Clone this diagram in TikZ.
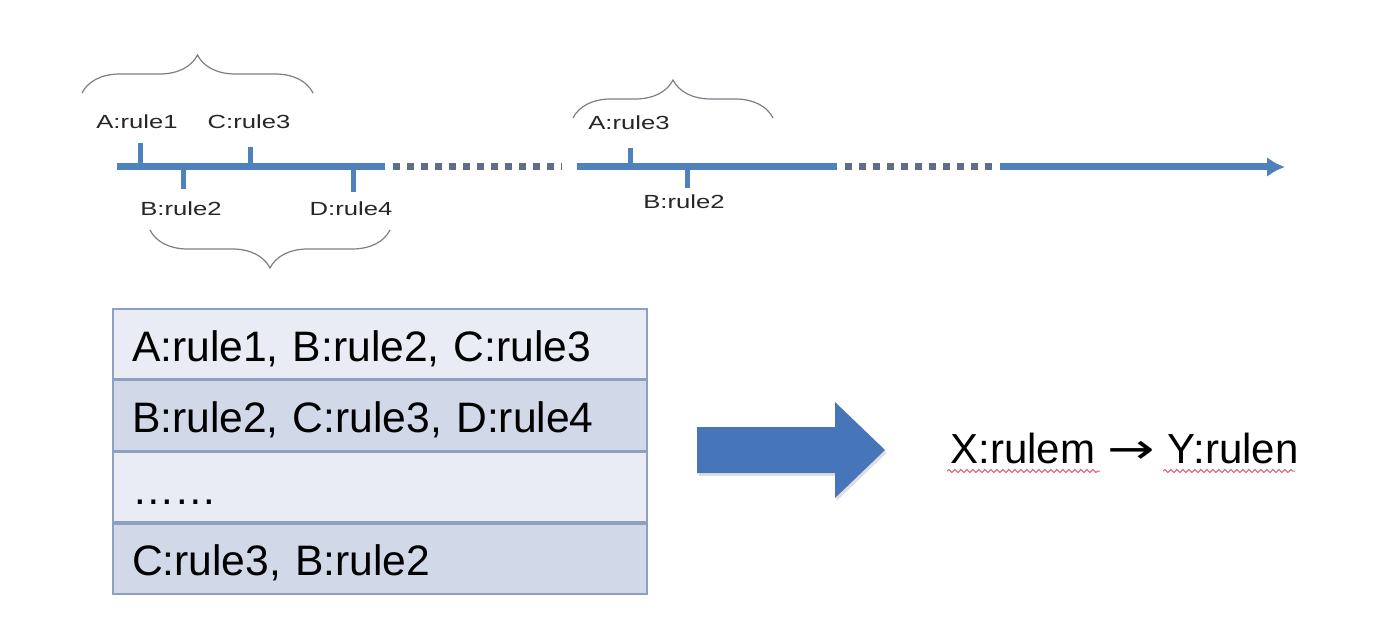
\documentclass[tikz,border=0pt]{standalone}
\usepackage{fontspec}
\setmainfont{Liberation Sans}
\newfontfamily\arrowfont{DejaVu Sans}
\usetikzlibrary{arrows.meta,positioning,decorations.pathreplacing,decorations.pathmorphing,shadows}

\definecolor{lineblue}{HTML}{4F81BD}
\definecolor{dotgray}{HTML}{5E6E86}
\definecolor{bracegray}{HTML}{7A7F88}
\definecolor{rowlight}{HTML}{E9ECF5}
\definecolor{rowdark}{HTML}{D1D8E7}
\definecolor{rowline}{HTML}{8FA0BF}
\definecolor{arrowblue}{HTML}{4675B9}
\definecolor{spellred}{HTML}{D9607A}

% event labels on the time line are set wide
\newcommand{\evtext}[1]{\scalebox{1.35}[1]{#1}}

\begin{document}
\begin{tikzpicture}[x=0.5pt,y=-0.5pt,>=Latex,
  axisline/.style={draw=lineblue,line width=3.5pt},
  axisdots/.style={draw=dotgray,line width=3.5pt,dash pattern=on 3.5pt off 3.5pt},
  tickmark/.style={draw=lineblue,line width=2.5pt},
  evlabel/.style={font=\fontsize{9.5}{11}\selectfont,text=black!85,inner sep=0pt,anchor=base},
  brc/.style={draw=bracegray,line width=0.6pt,decorate,decoration={brace,amplitude=19pt}},
  rowbox/.style={draw=rowline,line width=0.8pt,minimum height=35pt,text width=248pt,inner xsep=9.5pt,inner ysep=0pt,text height=21pt,text depth=4pt,align=left,font=\fontsize{21.3}{25}\selectfont},
  squiggle/.style={draw=spellred,line width=0.5pt,decorate,decoration={snake,amplitude=0.8pt,segment length=3pt}}]
\useasboundingbox (0,0) rectangle (1384,636);

% time line
\coordinate (s1a) at (117,167);
\coordinate (s1b) at (385,167);
\coordinate (d1a) at (393,167);
\coordinate (d1b) at (562,167);
\coordinate (s2a) at (577,167);
\coordinate (s2b) at (837,167);
\coordinate (d2a) at (845,167);
\coordinate (d2b) at (997,167);
\coordinate (s3a) at (1000,167);
\coordinate (tend) at (1285,167);
\draw[axisline] (s1a)--(s1b);
\draw[axisdots] (d1a)--(d1b);
\draw[axisline] (s2a)--(s2b);
\draw[axisdots] (d2a)--(d2b);
\draw[axisline,-{Latex[length=9pt,width=10pt]}] (s3a)--(tend);

% events
\draw[tickmark] (140,167)--(140,143);
\draw[tickmark] (250,167)--(250,147);
\draw[tickmark] (183,167)--(183,189);
\draw[tickmark] (353,167)--(353,192);
\draw[tickmark] (630,167)--(630,148);
\draw[tickmark] (687,167)--(687,188);
\node[evlabel] (ev1) at (137,129) {\evtext{A:rule1}};
\node[evlabel] (ev2) at (181,215) {\evtext{B:rule2}};
\node[evlabel] (ev3) at (249,129) {\evtext{C:rule3}};
\node[evlabel] (ev4) at (351,215) {\evtext{D:rule4}};
\node[evlabel] (ev5) at (629,130) {\evtext{A:rule3}};
\node[evlabel] (ev6) at (684,208) {\evtext{B:rule2}};

% windows
\draw[brc] (82,93)--(313,93);
\draw[brc] (390,230)--(150,230);
\draw[brc] (573,118)--(773,118);

% table of windows
\node[rowbox,fill=rowlight] (row1) at (380,344) {A:rule1, B:rule2, C:rule3};
\node[rowbox,fill=rowdark,below=0pt of row1] (row2) {B:rule2, C:rule3, D:rule4};
\node[rowbox,fill=rowlight,below=0pt of row2] (row3) {……};
\node[rowbox,fill=rowdark,below=0pt of row3] (row4) {C:rule3, B:rule2};

% block arrow and result
\fill[arrowblue,drop shadow={opacity=0.25,shadow xshift=0.8pt,shadow yshift=-1.5pt}]
  (697,427)--(835,427)--(835,402)--(885,450)--(835,498)--(835,473)--(697,473)--cycle;
\node[anchor=base west,inner sep=0pt,font=\fontsize{21}{25}\selectfont] (result) at (950,463) {X:rulem\hspace{0.3em}{\arrowfont\scalebox{1.35}[1]{→}}\hspace{0.3em}Y:rulen};
\draw[squiggle] (947,471)--(1100,471);
\draw[squiggle] (1163,471)--(1295,471);
\end{tikzpicture}
\end{document}
